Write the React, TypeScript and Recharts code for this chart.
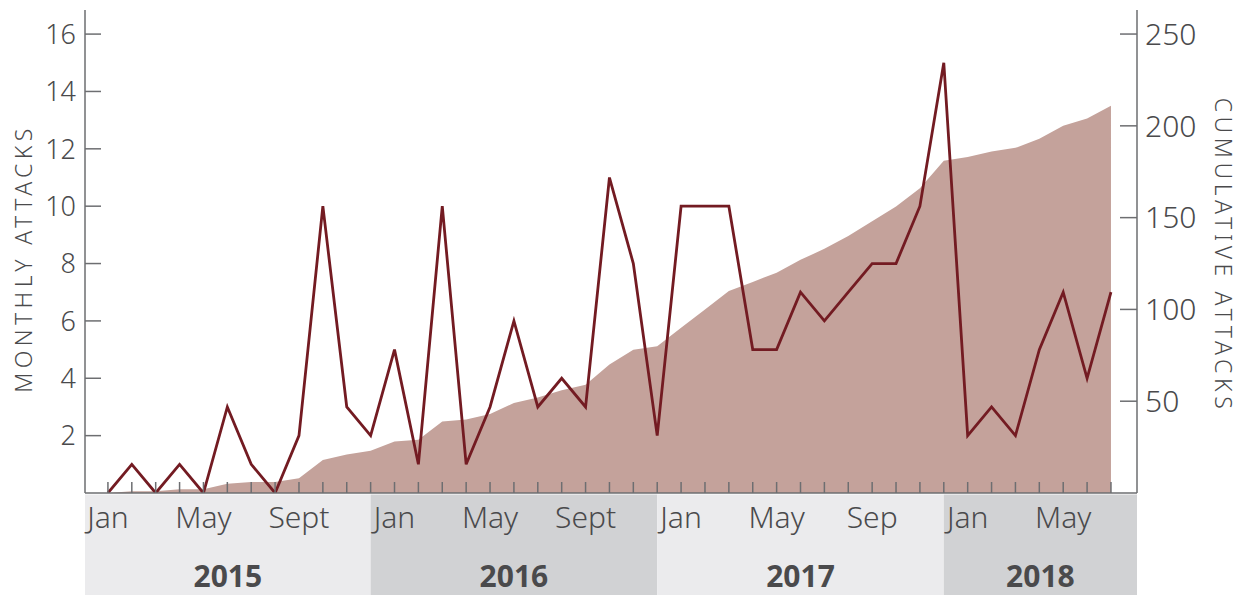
import React from "react";
import {
  ComposedChart,
  Area,
  Line,
  XAxis,
  YAxis,
  ReferenceArea,
} from "recharts";

// ---------- data ----------
const periods = [
  "Jan 2015", "Feb 2015", "Mar 2015", "Apr 2015", "May 2015", "Jun 2015",
  "Jul 2015", "Aug 2015", "Sep 2015", "Oct 2015", "Nov 2015", "Dec 2015",
  "Jan 2016", "Feb 2016", "Mar 2016", "Apr 2016", "May 2016", "Jun 2016",
  "Jul 2016", "Aug 2016", "Sep 2016", "Oct 2016", "Nov 2016", "Dec 2016",
  "Jan 2017", "Feb 2017", "Mar 2017", "Apr 2017", "May 2017", "Jun 2017",
  "Jul 2017", "Aug 2017", "Sep 2017", "Oct 2017", "Nov 2017", "Dec 2017",
  "Jan 2018", "Feb 2018", "Mar 2018", "Apr 2018", "May 2018", "Jun 2018",
  "Jul 2018",
];

const monthlyAttacks = [
  0, 1, 0, 1, 0, 3, 1, 0, 2, 10, 3, 2,
  5, 1, 10, 1, 3, 6, 3, 4, 3, 11, 8, 2,
  10, 10, 10, 5, 5, 7, 6, 7, 8, 8, 10, 15,
  2, 3, 2, 5, 7, 4, 7,
];

const cumulativeAttacks = [
  0, 1, 1, 2, 2, 5, 6, 6, 8, 18, 21, 23,
  28, 29, 39, 40, 43, 49, 52, 56, 59, 70, 78, 80,
  90, 100, 110, 115, 120, 127, 133, 140, 148, 156, 166, 181,
  183, 186, 188, 193, 200, 204, 211,
];

const monthTickIndex = [0, 4, 8, 12, 16, 20, 24, 28, 32, 36, 40];
const monthTickText = ["Jan", "May", "Sept", "Jan", "May", "Sept", "Jan", "May", "Sep", "Jan", "May"];

const years = ["2015", "2016", "2017", "2018"];
// year band boundaries as month indices (band ends at December of each year)
const yearBandStart: (number | undefined)[] = [undefined, 11, 23, 35];
const yearBandEnd: (number | undefined)[] = [11, 23, 35, undefined];

const leftTicks = [2, 4, 6, 8, 10, 12, 14, 16];
const rightTicks = [50, 100, 150, 200, 250];

const rows = periods.map((p, i) => ({
  i,
  period: p,
  monthly: monthlyAttacks[i],
  cum: cumulativeAttacks[i],
}));

// ---------- styles ----------
const FONT = "'Noto Sans', 'DejaVu Sans Condensed', sans-serif";
const baseText: React.CSSProperties = {
  fontFamily: FONT,
  fontStretch: "condensed",
  fontWeight: 300,
};
const AXIS = "#6d6e71";
const TEXT = "#4a4a4c";
const LINE = "#731b22";
const AREA = "#c4a29b";
const BAND_LIGHT = "#ebebed";
const BAND_DARK = "#d1d2d4";

const LeftTick = (props: any) => {
  const { x, y, payload } = props;
  return (
    <g>
      <line x1={x} x2={x + 16} y1={y} y2={y} stroke={AXIS} strokeWidth={1.5} />
      <text x={x - 9} y={y} dy="0.36em" textAnchor="end" fill={TEXT}
        style={{ ...baseText, fontSize: 27 }}>
        {payload.value}
      </text>
    </g>
  );
};

const RightTick = (props: any) => {
  const { x, y, payload } = props;
  return (
    <g>
      <line x1={x - 17} x2={x} y1={y} y2={y} stroke={AXIS} strokeWidth={1.5} />
      <text x={x + 8} y={y} dy="0.36em" textAnchor="start" fill={TEXT}
        style={{ ...baseText, fontSize: 30 }}>
        {payload.value}
      </text>
    </g>
  );
};

const XTick = (props: any) => {
  const { x, y, payload } = props;
  const k = monthTickIndex.indexOf(payload.value);
  return (
    <g>
      <line x1={x} x2={x} y1={y} y2={y - 11} stroke={AXIS} strokeWidth={1.5} />
      {k >= 0 && (
        <text x={x} y={y + 35} textAnchor="middle" fill={TEXT}
          style={{ ...baseText, fontSize: 30 }}>
          {monthTickText[k]}
        </text>
      )}
    </g>
  );
};

const YearLabel = (text: string) => (props: any) => {
  const vb = props.viewBox || {};
  return (
    <text x={vb.x + vb.width / 2} y={493 + 94} textAnchor="middle" fill={TEXT}
      style={{ ...baseText, fontSize: 30, fontWeight: 700 }}>
      {text}
    </text>
  );
};

const LeftTitle = (props: any) => {
  const vb = props.viewBox || {};
  const cy = vb.y + vb.height / 2 + 7;
  return (
    <text x={23} y={cy} transform={`rotate(-90 23 ${cy})`} textAnchor="middle"
      dominantBaseline="central" fill={TEXT}
      style={{ ...baseText, fontSize: 23, letterSpacing: 4.4 }}>
      MONTHLY ATTACKS
    </text>
  );
};

const RightTitle = (props: any) => {
  const vb = props.viewBox || {};
  const cy = vb.y + vb.height / 2 + 4;
  return (
    <text x={1224} y={cy} transform={`rotate(90 1224 ${cy})`} textAnchor="middle"
      dominantBaseline="central" fill={TEXT}
      style={{ ...baseText, fontSize: 23, letterSpacing: 4.6 }}>
      CUMULATIVE ATTACKS
    </text>
  );
};

export default function App() {
  return (
    <div style={{ position: "absolute", left: 0, top: 0, width: 1243, height: 595, background: "#fff" }}>
      <ComposedChart
        width={1243}
        height={595}
        data={rows}
        margin={{ top: 10, right: 0, bottom: 0, left: 0 }}
      >
        {years.map((yr, j) => (
          <ReferenceArea
            key={yr}
            yAxisId="left"
            x1={yearBandStart[j]}
            x2={yearBandEnd[j]}
            y1={-3.7}
            y2={-0.05}
            ifOverflow="visible"
            fill={j % 2 === 0 ? BAND_LIGHT : BAND_DARK}
            fillOpacity={1}
            stroke="none"
            label={YearLabel(yr)}
          />
        ))}
        <XAxis
          dataKey="i"
          type="number"
          domain={[-0.96, 43.09]}
          allowDataOverflow
          ticks={periods.map((_, i) => i)}
          interval={0}
          height={102}
          tickSize={0}
          tickMargin={0}
          tickLine={false}
          axisLine={{ stroke: AXIS, strokeWidth: 1.5 }}
          tick={<XTick />}
        />
        <YAxis
          yAxisId="left"
          orientation="left"
          width={85}
          domain={[0, 16.84]}
          allowDataOverflow
          ticks={leftTicks}
          interval={0}
          tickSize={0}
          tickMargin={0}
          tickLine={false}
          axisLine={{ stroke: AXIS, strokeWidth: 1.5 }}
          tick={<LeftTick />}
          label={<LeftTitle />}
        />
        <YAxis
          yAxisId="right"
          orientation="right"
          width={106}
          domain={[0, 263.1]}
          allowDataOverflow
          ticks={rightTicks}
          interval={0}
          tickSize={0}
          tickMargin={0}
          tickLine={false}
          axisLine={{ stroke: AXIS, strokeWidth: 1.5 }}
          tick={<RightTick />}
          label={<RightTitle />}
        />
        <Area
          yAxisId="right"
          dataKey="cum"
          type="linear"
          fill={AREA}
          fillOpacity={1}
          stroke="none"
          isAnimationActive={false}
        />
        <Line
          yAxisId="left"
          dataKey="monthly"
          type="linear"
          stroke={LINE}
          strokeWidth={2.8}
          dot={false}
          activeDot={false}
          isAnimationActive={false}
        />
      </ComposedChart>
    </div>
  );
}
